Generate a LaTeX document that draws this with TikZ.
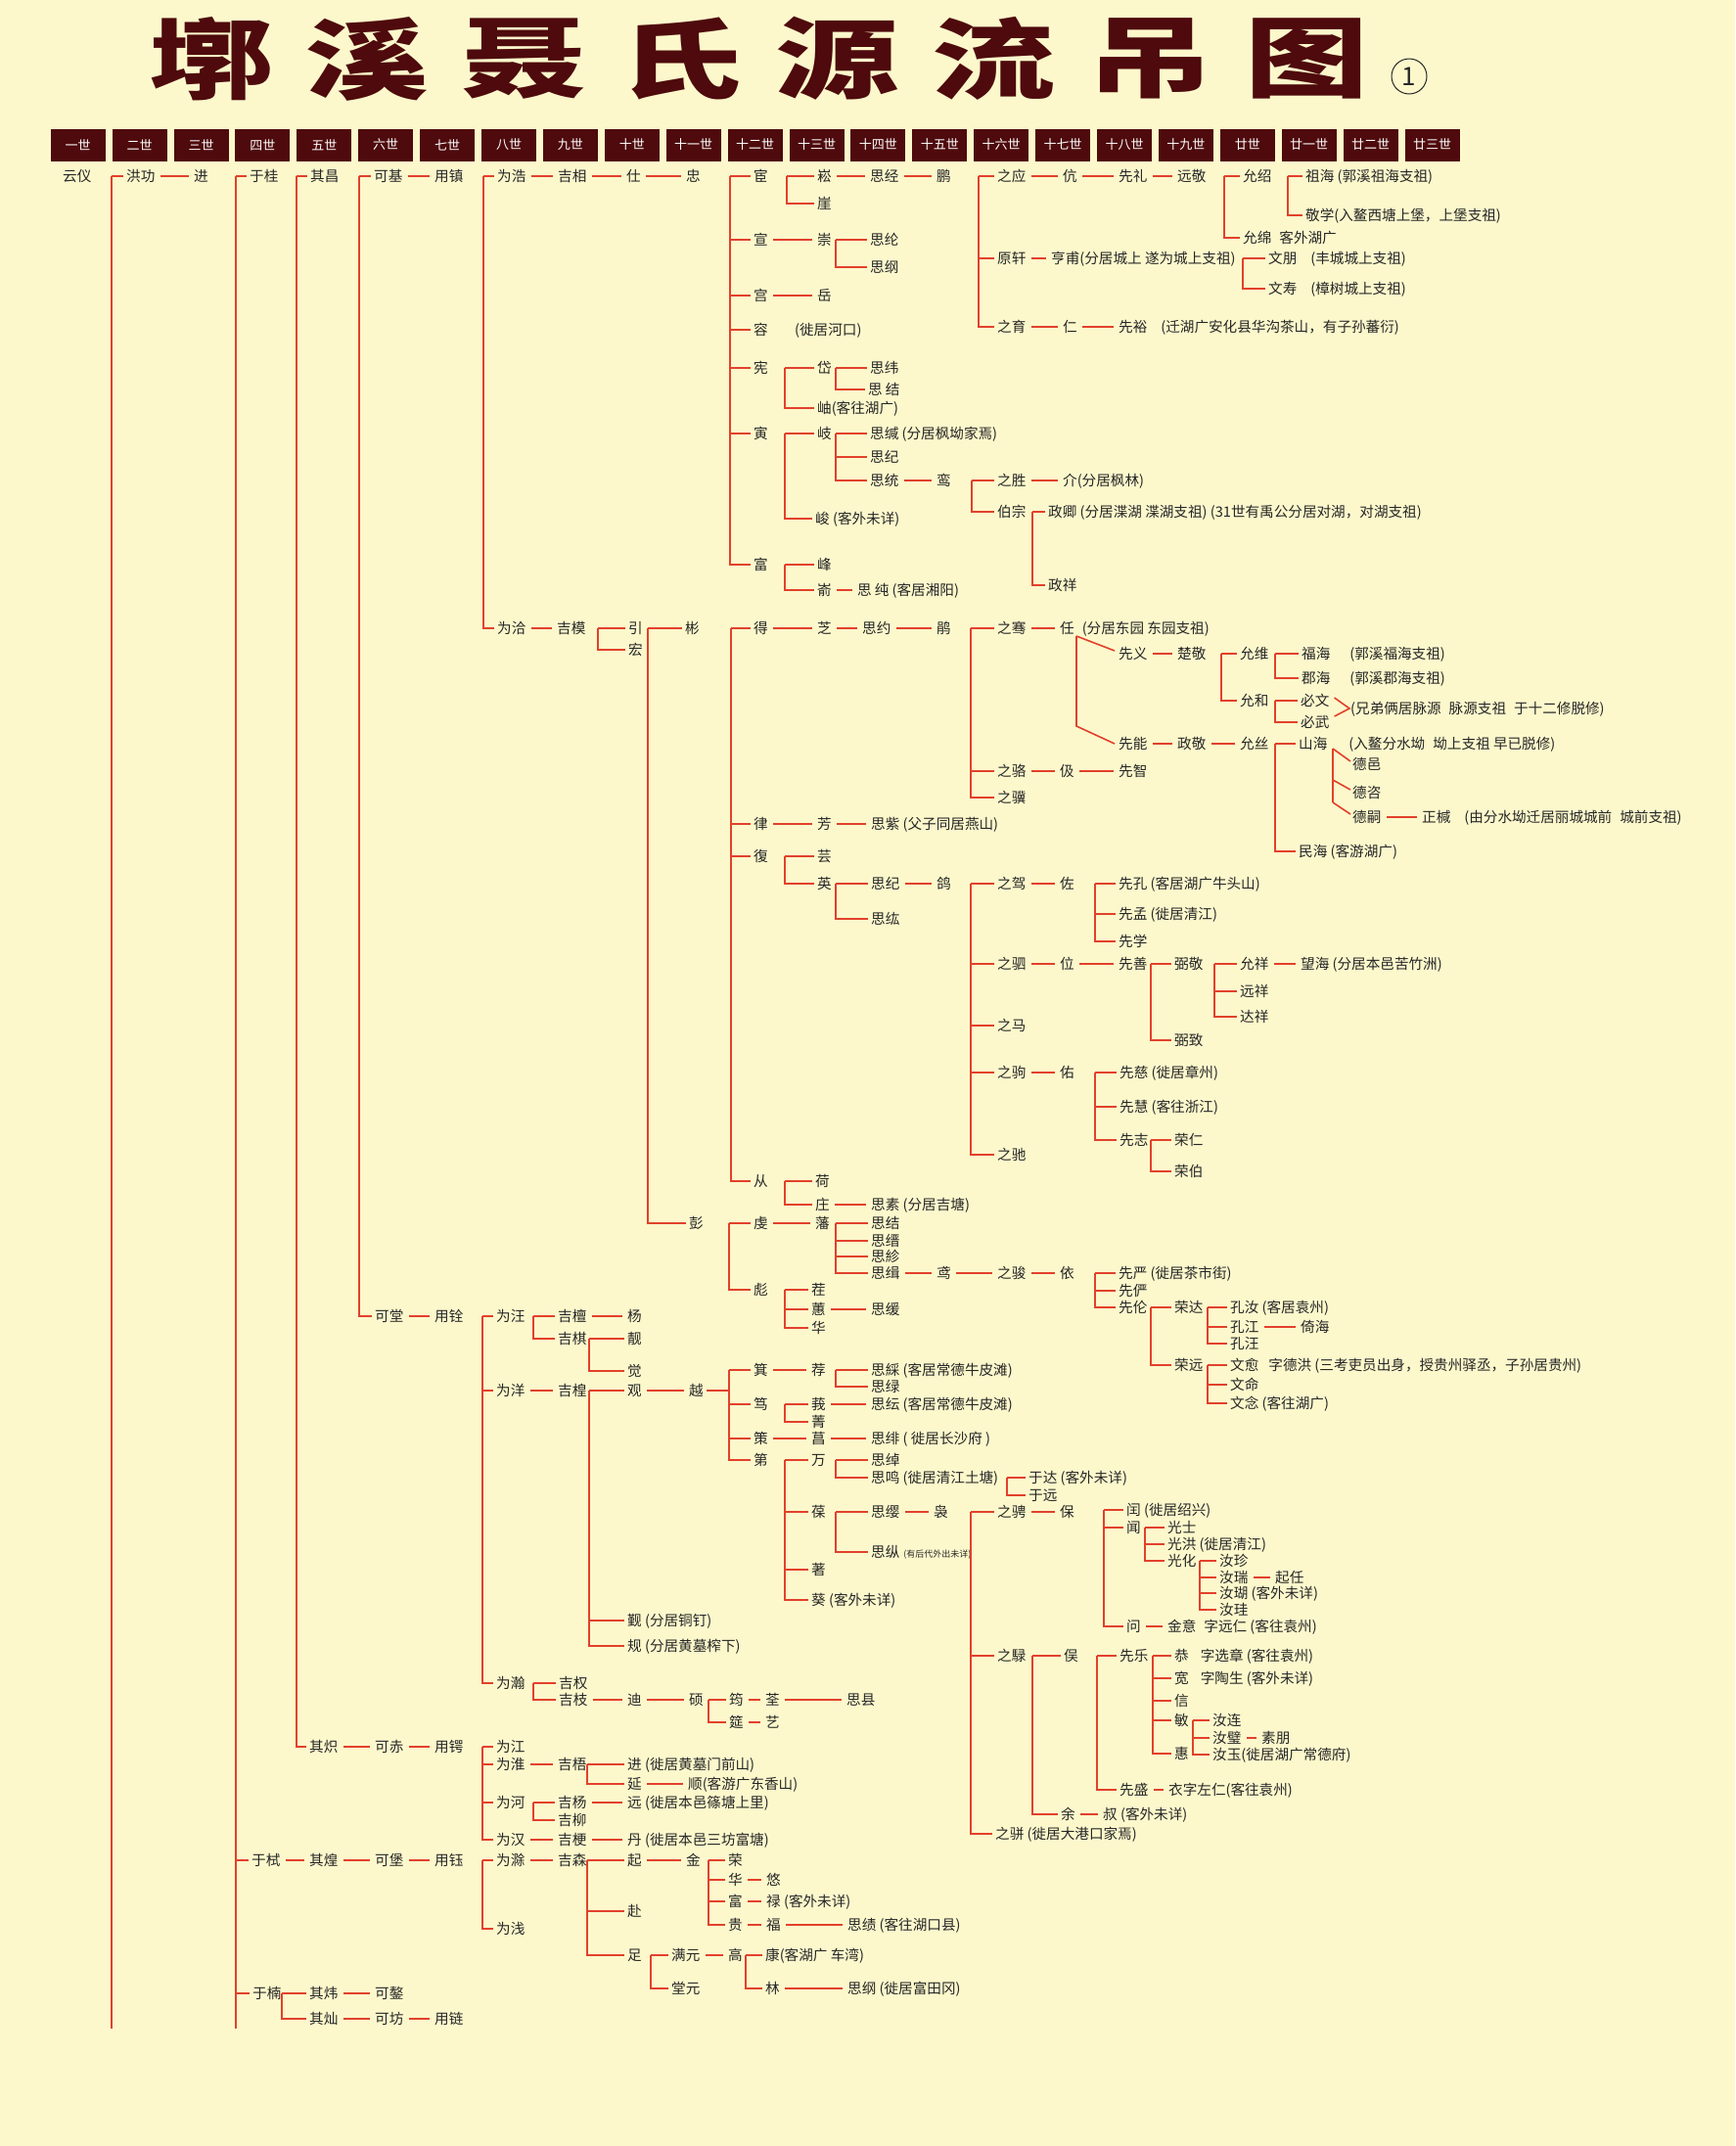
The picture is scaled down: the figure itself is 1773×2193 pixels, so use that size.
\documentclass[tikz,border=0pt]{standalone}
\usepackage{fontspec}
\usepackage{graphicx}
\newfontfamily\cjk{Noto Sans CJK SC}
\definecolor{bg}{HTML}{FCF8CC}
\definecolor{lnc}{HTML}{E2412B}
\definecolor{txt}{HTML}{262626}
\definecolor{mar}{HTML}{4E0A0C}
\newcommand\gap[1][6]{\hspace{#1pt}}
\newcommand\N[4]{\node[nm] (#1) at (#2,#3) {#4};}
\newcommand\D[2]{\draw[ln] ([xshift=5pt]#1.east) -- ([xshift=-5pt]#2.west);}
\newcommand\B[3]{\foreach \c in {#3}{\draw[ln] (#1,0 |- #2.west) -- (#1,0 |- \c.west) -- ([xshift=-3pt]\c.west);}}
\begin{document}
\begin{tikzpicture}[x=1pt,y=-1pt,
  nm/.style={anchor=west, inner sep=0pt, font=\cjk\fontsize{14.6}{14.6}\selectfont, text=txt, text height=12.4pt, text depth=2pt},
  ln/.style={draw=lnc, line width=1.6pt},
  hd/.style={fill=mar, minimum width=56pt, minimum height=33pt, inner sep=0pt, font=\cjk\fontsize{13}{13}\selectfont, text=white},
  tt/.style={inner sep=0pt, font=\cjk\bfseries\fontsize{90}{90}\selectfont, text=mar}]
\fill[bg] (0,0) rectangle (1773,2193);
\useasboundingbox (0,0) rectangle (1773,2193);
% title
\foreach \ch [count=\k from 0] in {墎,溪,聂,氏,源,流,吊,图}
  \node[tt] (t\k) at ({215+160*\k},60) {\scalebox{1.4}[1]{\ch}};
\node[circle, draw=txt, line width=1pt, minimum size=36pt, inner sep=0pt, font=\cjk\fontsize{26}{26}\selectfont, text=txt] (one) at (1440,78) {1};
% header
\foreach \t [count=\i from 0] in {一世,二世,三世,四世,五世,六世,七世,八世,九世,十世,十一世,十二世,十三世,十四世,十五世,十六世,十七世,十八世,十九世,廿世,廿一世,廿二世,廿三世}
  \node[hd] (h\i) at ({79.7+62.9*\i},148) {\t};
% ---------------- nodes
\N{yunyi}{64}{180}{云仪}
\N{honggong}{129}{180}{洪功}
\N{jin}{198}{180}{进}
\N{yugui}{255}{180}{于桂}
\N{qichang}{317}{180}{其昌}
\N{keji}{382}{180}{可基}
\N{yongzhen}{444}{180}{用镇}
\N{weihao}{508}{180}{为浩}
\N{jixiang}{570}{180}{吉相}
\N{shi}{640}{180}{仕}
\N{zhong}{701}{180}{忠}
\N{huan}{770}{180}{宦}
\N{xuan}{770}{245}{宣}
\N{gong}{770}{302}{宫}
\N{rong}{770}{337}{容}
\N{xian}{770}{376}{宪}
\N{yin}{770}{443}{寅}
\N{fu}{770}{577}{富}
\N{song}{835}{180}{崧}
\N{ya}{835}{208}{崖}
\N{sijing}{889}{180}{思经}
\N{peng}{957}{180}{鹏}
\N{zhiying}{1019}{180}{之应}
\N{yuanxuan}{1019}{264}{原轩}
\N{zhiyu}{1019}{334}{之育}
\N{kang}{1086}{180}{伉}
\N{xianli}{1143}{180}{先礼}
\N{yuanjing}{1203}{180}{远敬}
\N{yunshao}{1270}{180}{允绍}
\N{yunmian}{1270}{243}{允绵\gap[8]客外湖广}
\N{zuhai}{1334}{180}{祖海 (郭溪祖海支祖)}
\N{jingxue}{1334}{220}{敬学(入鳌西塘上堡，上堡支祖)}
\N{hengfu}{1074}{264}{亨甫(分居城上 遂为城上支祖)}
\N{wenpeng}{1296}{264}{文朋\gap[14](丰城城上支祖)}
\N{wenshou}{1296}{295}{文寿\gap[14](樟树城上支祖)}
\N{ren1}{1086}{334}{仁}
\N{xianyu}{1143}{334}{先裕\gap[14](迁湖广安化县华沟茶山，有子孙蕃衍)}
\N{chong}{835}{245}{崇}
\N{silun}{889}{245}{思纶}
\N{sigang}{889}{273}{思纲}
\N{yue}{835}{302}{岳}
\N{rongnote}{812}{337}{(徙居河口)}
\N{dai}{835}{376}{岱}
\N{xiu}{835}{417}{岫(客往湖广)}
\N{siwei}{889}{376}{思纬}
\N{sijie1}{887}{398}{思\gap[3]结}
\N{qi}{835}{443}{岐}
\N{jun}{833}{530}{峻 (客外未详)}
\N{sijian}{889}{443}{思缄 (分居枫坳家焉)}
\N{siji1}{889}{467}{思纪}
\N{sitong}{889}{491}{思统}
\N{luan}{957}{491}{鸾}
\N{zhisheng}{1019}{491}{之胜}
\N{bozong}{1019}{523}{伯宗}
\N{jie}{1086}{491}{介(分居枫林)}
\N{zhengqing}{1071}{523}{政卿 (分居渫湖 渫湖支祖) (31世有禹公分居对湖，对湖支祖)}
\N{zhengxiang}{1071}{598}{政祥}
\N{feng}{835}{577}{峰}
\N{yu2}{835}{603}{嵛}
\N{sichun}{876}{603}{思\gap[3]纯 (客居湘阳)}
% weiqia branch
\N{weiqia}{508}{642}{为洽}
\N{jimo}{569}{642}{吉模}
\N{yin2}{642}{642}{引}
\N{hong}{642}{664}{宏}
\N{bin}{700}{642}{彬}
\N{peng2}{704}{1250}{彭}
\N{de}{770}{642}{得}
\N{lv}{770}{842}{律}
\N{fu2}{770}{875}{復}
\N{cong}{770}{1207}{从}
\N{zhi}{835}{642}{芝}
\N{siyue}{881}{642}{思约}
\N{juan}{957}{642}{鹃}
\N{zhiqian}{1019}{642}{之骞}
\N{zhiluo}{1019}{788}{之骆}
\N{zhiji}{1019}{815}{之骥}
\N{ren2}{1083}{642}{任\gap[8](分居东园 东园支祖)}
\N{xianyi}{1143}{668}{先义}
\N{chujing}{1203}{668}{楚敬}
\N{yunwei}{1267}{668}{允维}
\N{yunhe}{1267}{716}{允和}
\N{fuhai}{1330}{668}{福海\gap[20](郭溪福海支祖)}
\N{junhai}{1330}{693}{郡海\gap[20](郭溪郡海支祖)}
\N{biwen}{1329}{716}{必文}
\N{biwu}{1329}{738}{必武}
\N{bwnote}{1380}{724}{(兄弟俩居脉源\gap[8]脉源支祖\gap[8]于十二修脱修)}
\N{xianneng}{1143}{760}{先能}
\N{zhengjing}{1203}{760}{政敬}
\N{yunsi}{1267}{760}{允丝}
\N{shanhai}{1327}{760}{山海\gap[22](入鳌分水坳\gap[8]坳上支祖 早已脱修)}
\N{minhai}{1327}{870}{民海 (客游湖广)}
\N{deyi}{1382}{781}{德邑}
\N{dezi}{1382}{810}{德咨}
\N{desi}{1382}{835}{德嗣}
\N{zhengxie}{1453}{835}{正椷\gap[14](由分水坳迁居丽城城前\gap[8]城前支祖)}
\N{ji2}{1083}{788}{伋}
\N{xianzhi}{1143}{788}{先智}
\N{fang}{835}{842}{芳}
\N{sizi}{890}{842}{思紫 (父子同居燕山)}
\N{yun}{835}{875}{芸}
\N{ying}{835}{903}{英}
\N{siji2}{890}{903}{思纪}
\N{sihong}{890}{939}{思纮}
\N{ge}{957}{903}{鸽}
\N{zhijia}{1019}{903}{之驾}
\N{zhisi}{1019}{985}{之驷}
\N{zhima}{1019}{1048}{之马}
\N{zhiju}{1019}{1096}{之驹}
\N{zhichi}{1019}{1180}{之驰}
\N{zuo}{1083}{903}{佐}
\N{xiankong}{1143}{903}{先孔 (客居湖广牛头山)}
\N{xianmeng}{1143}{934}{先孟 (徙居清江)}
\N{xianxue}{1143}{962}{先学}
\N{wei}{1083}{985}{位}
\N{xianshan}{1143}{985}{先善}
\N{bijing}{1200}{985}{弼敬}
\N{bizhi}{1200}{1063}{弼致}
\N{yunxiang}{1267}{985}{允祥}
\N{yuanxiang}{1267}{1013}{远祥}
\N{daxiang}{1267}{1039}{达祥}
\N{wanghai}{1329}{985}{望海 (分居本邑苦竹洲)}
\N{you}{1083}{1096}{佑}
\N{xianci}{1144}{1096}{先慈 (徙居章州)}
\N{xianhui}{1144}{1131}{先慧 (客往浙江)}
\N{xianzhi2}{1144}{1165}{先志}
\N{rongren}{1200}{1165}{荣仁}
\N{rongbo}{1200}{1197}{荣伯}
\N{he}{833}{1207}{荷}
\N{zhuang}{833}{1231}{庄}
\N{sisu}{890}{1231}{思素 (分居吉塘)}
\N{qian}{770}{1250}{虔}
\N{biao}{770}{1318}{彪}
\N{fan}{833}{1250}{藩}
\N{sijie2}{890}{1250}{思结}
\N{sijin}{890}{1268}{思缙}
\N{sizhen}{890}{1284}{思紾}
\N{siji3}{890}{1301}{思缉}
\N{yuan}{957}{1301}{鸢}
\N{zhijun}{1019}{1301}{之骏}
\N{yi}{1083}{1301}{依}
\N{xianyan}{1143}{1301}{先严 (徙居茶市街)}
\N{xianyan2}{1143}{1319}{先俨}
\N{xianlun}{1143}{1336}{先伦}
\N{rongda}{1200}{1336}{荣达}
\N{rongyuan}{1200}{1395}{荣远}
\N{kongru}{1257}{1336}{孔汝 (客居袁州)}
\N{kongjiang}{1257}{1356}{孔江}
\N{kongwang}{1257}{1373}{孔汪}
\N{yihai}{1329}{1356}{倚海}
\N{wenyu}{1257}{1395}{文愈\gap[10]字德洪 (三考吏员出身，授贵州驿丞，子孙居贵州)}
\N{wenming}{1257}{1415}{文命}
\N{wennian}{1257}{1434}{文念 (客往湖广)}
\N{chi}{829}{1318}{茬}
\N{hui}{829}{1338}{蕙}
\N{hua}{829}{1357}{华}
\N{sihuan}{890}{1338}{思缓}
% ketang branch
\N{ketang}{383}{1345}{可堂}
\N{yongquan}{444}{1345}{用铨}
\N{weiwang}{507}{1345}{为汪}
\N{weiyang}{507}{1421}{为洋}
\N{weihan}{507}{1720}{为瀚}
\N{jitan}{570}{1345}{吉檀}
\N{jiqi}{570}{1368}{吉棋}
\N{yang}{641}{1345}{杨}
\N{liang}{641}{1368}{靓}
\N{jue}{641}{1401}{觉}
\N{jihuang}{570}{1421}{吉楻}
\N{guan}{641}{1421}{观}
\N{jin2}{641}{1656}{觐 (分居铜钉)}
\N{gui}{641}{1682}{规 (分居黄墓榨下)}
\N{yue2}{704}{1421}{越}
\N{ji3}{770}{1400}{箕}
\N{du}{770}{1435}{笃}
\N{ce}{770}{1470}{策}
\N{di}{770}{1492}{第}
\N{jian}{829}{1400}{荐}
\N{sicai}{890}{1400}{思綵 (客居常德牛皮滩)}
\N{silv}{890}{1417}{思绿}
\N{e}{829}{1435}{莪}
\N{jing}{829}{1453}{菁}
\N{siyun}{890}{1435}{思纭 (客居常德牛皮滩)}
\N{chang}{829}{1470}{菖}
\N{sifei}{890}{1470}{思绯 ( 徙居长沙府 )}
\N{wan}{829}{1492}{万}
\N{bao}{829}{1545}{葆}
\N{zhu}{829}{1604}{著}
\N{kui}{829}{1635}{葵 (客外未详)}
\N{sichuo}{890}{1492}{思绰}
\N{siming}{890}{1510}{思鸣 (徙居清江土塘)}
\N{yuda}{1051}{1510}{于达 (客外未详)}
\N{yuyuan}{1051}{1528}{于远}
\N{siying}{890}{1545}{思缨}
\N{sizong}{890}{1586}{思纵\gap[4]{\fontsize{9}{9}\selectfont(有后代外出未详)}}
\N{niao}{954}{1545}{袅}
\N{zhicheng}{1019}{1545}{之骋}
\N{zhilu}{1019}{1692}{之騄}
\N{zhipian}{1017}{1874}{之骈 (徙居大港口家焉)}
\N{bao2}{1083}{1545}{保}
\N{run}{1151}{1543}{闰 (徙居绍兴)}
\N{wen}{1151}{1561}{闻}
\N{wen2}{1151}{1662}{问}
\N{guangshi}{1193}{1561}{光士}
\N{guanghong}{1193}{1578}{光洪 (徙居清江)}
\N{guanghua}{1193}{1595}{光化}
\N{ruzhen}{1246}{1595}{汝珍}
\N{rurui}{1246}{1612}{汝瑞}
\N{ruhu}{1246}{1628}{汝瑚 (客外未详)}
\N{rugui}{1246}{1645}{汝珪}
\N{qiren}{1303}{1612}{起任}
\N{jinyi}{1193}{1662}{金意\gap[8]字远仁 (客往袁州)}
\N{yu3}{1087}{1692}{俣}
\N{yu4}{1084}{1854}{余}
\N{shu}{1127}{1854}{叔 (客外未详)}
\N{xianle}{1144}{1692}{先乐}
\N{xiansheng}{1144}{1829}{先盛}
\N{yizi}{1194}{1829}{衣字左仁(客往袁州)}
\N{gong2}{1200}{1692}{恭\gap[12]字选章 (客往袁州)}
\N{kuan}{1200}{1715}{宽\gap[12]字陶生 (客外未详)}
\N{xin}{1200}{1738}{信}
\N{min}{1200}{1758}{敏}
\N{hui2}{1200}{1792}{惠}
\N{rulian}{1239}{1758}{汝连}
\N{rubi}{1239}{1776}{汝璧}
\N{ruyu}{1239}{1793}{汝玉(徙居湖广常德府)}
\N{supeng}{1289}{1776}{素朋}
\N{jiquan}{571}{1720}{吉权}
\N{jizhi}{571}{1737}{吉枝}
\N{di2}{641}{1737}{迪}
\N{shuo}{704}{1737}{硕}
\N{jun2}{745}{1737}{筠}
\N{yan}{745}{1760}{筵}
\N{quan}{782}{1737}{荃}
\N{sixian}{865}{1737}{思县}
\N{yi2}{782}{1760}{艺}
% qichi branch
\N{qichi}{316}{1785}{其炽}
\N{kechi}{383}{1785}{可赤}
\N{yonge}{444}{1785}{用锷}
\N{weijiang}{507}{1785}{为江}
\N{weihuai}{507}{1803}{为淮}
\N{weihe}{507}{1842}{为河}
\N{weihan2}{507}{1880}{为汉}
\N{jiwu}{570}{1803}{吉梧}
\N{jin3}{641}{1803}{进 (徙居黄墓门前山)}
\N{yan2}{641}{1823}{延}
\N{shun}{703}{1823}{顺(客游广东香山)}
\N{jiyang}{570}{1842}{吉杨}
\N{jiliu}{570}{1860}{吉柳}
\N{yuan2}{641}{1842}{远 (徙居本邑篠塘上里)}
\N{jigeng}{570}{1880}{吉梗}
\N{dan}{641}{1880}{丹 (徙居本邑三坊富塘)}
% yushi branch
\N{yushi}{257}{1901}{于栻}
\N{qihuang}{316}{1901}{其煌}
\N{kebao}{383}{1901}{可堡}
\N{yongyu}{444}{1901}{用钰}
\N{weichu}{507}{1901}{为滁}
\N{weiqian}{507}{1971}{为浅}
\N{jisen}{570}{1901}{吉森}
\N{qi2}{641}{1901}{起}
\N{fu3}{641}{1953}{赴}
\N{zu}{641}{1998}{足}
\N{jin4}{701}{1901}{金}
\N{rong2}{744}{1901}{荣}
\N{hua2}{744}{1921}{华}
\N{fu4}{744}{1943}{富}
\N{gui2}{744}{1967}{贵}
\N{you2}{783}{1921}{悠}
\N{lu}{783}{1943}{禄 (客外未详)}
\N{fu5}{783}{1967}{福}
\N{siji4}{866}{1967}{思绩 (客往湖口县)}
\N{manyuan}{686}{1998}{满元}
\N{tangyuan}{686}{2032}{堂元}
\N{gao}{744}{1998}{高}
\N{kang2}{782}{1998}{康(客湖广 车湾)}
\N{lin}{782}{2032}{林}
\N{sigang2}{866}{2032}{思纲 (徙居富田冈)}
% yunan branch
\N{yunan}{258}{2037}{于楠}
\N{qiwei}{316}{2037}{其炜}
\N{qican}{316}{2063}{其灿}
\N{keao}{383}{2037}{可鏊}
\N{kefang}{383}{2063}{可坊}
\N{yonglian}{444}{2063}{用链}
% ---------------- brackets
\B{114}{honggong}{honggong}
\draw[ln] (114,0 |- honggong.west) -- (114,2073);
\B{241}{yugui}{yugui,yushi,yunan}
\draw[ln] (241,0 |- yugui.west) -- (241,2073);
\B{303}{qichang}{qichang,qichi}
\B{367}{keji}{keji,ketang}
\B{494}{weihao}{weihao,weiqia}
\B{746}{huan}{huan,xuan,gong,rong,xian,yin,fu}
\B{804}{song}{song,ya}
\B{1000}{zhiying}{zhiying,yuanxuan,zhiyu}
\B{1251}{yunshao}{yunshao,yunmian}
\B{1316}{zuhai}{zuhai,jingxue}
\B{1270}{wenpeng}{wenpeng,wenshou}
\B{854}{silun}{silun,sigang}
\B{802}{dai}{dai,xiu}
\B{854}{siwei}{siwei,sijie1}
\B{802}{qi}{qi,jun}
\B{854}{sijian}{sijian,siji1,sitong}
\B{993}{zhisheng}{zhisheng,bozong}
\B{1055}{zhengqing}{zhengqing,zhengxiang}
\B{802}{feng}{feng,yu2}
\B{611}{yin2}{yin2,hong}
\B{662}{bin}{bin,peng2}
\B{747}{de}{de,lv,fu2,cong}
\B{992}{zhiqian}{zhiqian,zhiluo,zhiji}
\B{1248}{yunwei}{yunwei,yunhe}
\B{1303}{fuhai}{fuhai,junhai}
\B{1303}{biwen}{biwen,biwu}
\B{1303}{shanhai}{shanhai,minhai}
\B{802}{yun}{yun,ying}
\B{854}{siji2}{siji2,sihong}
\B{992}{zhijia}{zhijia,zhisi,zhima,zhiju,zhichi}
\B{1119}{xiankong}{xiankong,xianmeng,xianxue}
\B{1176}{bijing}{bijing,bizhi}
\B{1241}{yunxiang}{yunxiang,yuanxiang,daxiang}
\B{1119}{xianci}{xianci,xianhui,xianzhi2}
\B{1176}{rongren}{rongren,rongbo}
\B{802}{he}{he,zhuang}
\B{745}{qian}{qian,biao}
\B{854}{sijie2}{sijie2,sijin,sizhen,siji3}
\B{1119}{xianyan}{xianyan,xianyan2,xianlun}
\B{1176}{rongda}{rongda,rongyuan}
\B{1234}{kongru}{kongru,kongjiang,kongwang}
\B{1234}{wenyu}{wenyu,wenming,wennian}
\B{802}{chi}{chi,hui,hua}
\B{493}{weiwang}{weiwang,weiyang,weihan}
\B{545}{jitan}{jitan,jiqi}
\B{602}{liang}{liang,jue}
\B{602}{guan}{guan,jin2,gui}
\B{745}{ji3}{ji3,du,ce,di}
\draw[ln] ([xshift=3pt]yue2.east) -- (745,0 |- yue2.east);
\B{854}{sicai}{sicai,silv}
\B{802}{e}{e,jing}
\B{802}{wan}{wan,bao,zhu,kui}
\B{854}{sichuo}{sichuo,siming}
\B{1029}{yuda}{yuda,yuyuan}
\B{854}{siying}{siying,sizong}
\B{992}{zhicheng}{zhicheng,zhilu,zhipian}
\B{1128}{run}{run,wen,wen2}
\B{1170}{guangshi}{guangshi,guanghong,guanghua}
\B{1226}{ruzhen}{ruzhen,rurui,ruhu,rugui}
\B{1055}{yu3}{yu3,yu4}
\B{1121}{xianle}{xianle,xiansheng}
\B{1178}{gong2}{gong2,kuan,xin,min,hui2}
\B{1219}{rulian}{rulian,rubi,ruyu}
\B{545}{jiquan}{jiquan,jizhi}
\B{724}{jun2}{jun2,yan}
\B{493}{weijiang}{weijiang,weihuai,weihe,weihan2}
\B{600}{jin3}{jin3,yan2}
\B{545}{jiyang}{jiyang,jiliu}
\B{493}{weichu}{weichu,weiqian}
\B{600}{qi2}{qi2,fu3,zu}
\B{724}{rong2}{rong2,hua2,fu4,gui2}
\B{665}{manyuan}{manyuan,tangyuan}
\B{762}{kang2}{kang2,lin}
\B{288}{qiwei}{qiwei,qican}
% ---------------- dashes
\D{honggong}{jin} \D{keji}{yongzhen} \D{weihao}{jixiang} \D{jixiang}{shi} \D{shi}{zhong}
\D{song}{sijing} \D{sijing}{peng} \D{zhiying}{kang} \D{kang}{xianli} \D{xianli}{yuanjing}
\D{yuanxuan}{hengfu} \D{zhiyu}{ren1} \D{ren1}{xianyu} \D{xuan}{chong} \D{gong}{yue}
\D{sitong}{luan} \D{zhisheng}{jie} \D{yu2}{sichun} \D{weiqia}{jimo} \D{de}{zhi}
\D{zhi}{siyue} \D{siyue}{juan} \D{zhiqian}{ren2} \D{xianyi}{chujing} \D{xianneng}{zhengjing}
\D{zhengjing}{yunsi} \D{desi}{zhengxie} \D{zhiluo}{ji2} \D{ji2}{xianzhi} \D{lv}{fang}
\D{fang}{sizi} \D{siji2}{ge} \D{zhijia}{zuo} \D{zhisi}{wei} \D{wei}{xianshan}
\D{yunxiang}{wanghai} \D{zhiju}{you} \D{zhuang}{sisu} \D{qian}{fan} \D{siji3}{yuan}
\D{yuan}{zhijun} \D{zhijun}{yi} \D{kongjiang}{yihai} \D{hui}{sihuan} \D{ketang}{yongquan}
\D{jitan}{yang} \D{weiyang}{jihuang} \D{guan}{yue2} \D{ji3}{jian} \D{e}{siyun}
\D{ce}{chang} \D{chang}{sifei} \D{siying}{niao} \D{zhicheng}{bao2} \D{rurui}{qiren}
\D{wen2}{jinyi} \D{yu4}{shu} \D{xiansheng}{yizi} \D{rubi}{supeng} \D{jizhi}{di2}
\D{di2}{shuo} \D{jun2}{quan} \D{quan}{sixian} \D{yan}{yi2} \D{qichi}{kechi}
\D{kechi}{yonge} \D{weihuai}{jiwu} \D{yan2}{shun} \D{jiyang}{yuan2} \D{weihan2}{jigeng}
\D{jigeng}{dan} \D{yushi}{qihuang} \D{qihuang}{kebao} \D{kebao}{yongyu} \D{weichu}{jisen}
\D{qi2}{jin4} \D{hua2}{you2} \D{fu4}{lu} \D{gui2}{fu5} \D{fu5}{siji4}
\D{manyuan}{gao} \D{lin}{sigang2} \D{qiwei}{keao} \D{qican}{kefang} \D{kefang}{yonglian}
% ---------------- slanted connectors
\coordinate (renfoot) at (1100,650);
\draw[ln] (renfoot) -- ([xshift=-4pt,yshift=3pt]xianyi.west);
\draw[ln] (renfoot) -- (1100,742) -- ([xshift=-4pt]xianneng.west);
\coordinate (sh1) at (1362,765);
\coordinate (sh2) at (1362,797);
\coordinate (sh3) at (1362,820);
\draw[ln] (sh1) -- (sh3);
\draw[ln] (sh1) -- ([xshift=-2pt,yshift=3pt]deyi.west);
\draw[ln] (sh2) -- ([xshift=-2pt,yshift=3pt]dezi.west);
\draw[ln] (sh3) -- ([xshift=-2pt,yshift=3pt]desi.west);
\draw[ln] ([xshift=5pt,yshift=3pt]biwen.east) -- ([xshift=-1pt]bwnote.west) -- ([xshift=5pt,yshift=6pt]biwu.east);
\end{tikzpicture}
\end{document}
